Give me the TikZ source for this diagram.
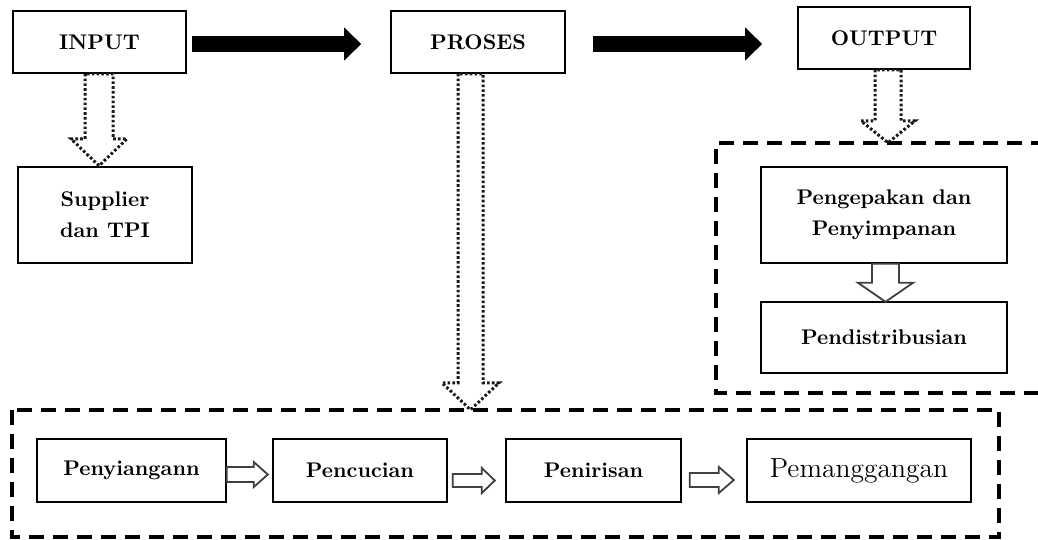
\documentclass[tikz,border=0pt]{standalone}
\usetikzlibrary{arrows.meta,calc}

\tikzset{
    box/.style={draw, line width=0.8pt, inner sep=2pt, align=center,
        font=\fontsize{10.6}{15.5}\selectfont\bfseries},
    groupbox/.style={line width=1.6pt, dash pattern=on 7.5pt off 4.5pt},
    bigarrow/.style={line width=8pt, -{Triangle[length=8.5pt,width=16pt]}},
    dotarrow/.style={line width=1.5pt, dash pattern=on 1.3pt off 1.1pt, black!90},
    hollowarrow/.style={line width=0.9pt, black!75},
}

% block arrows: style, start, shaft width, shaft length, head overhang, head length
\newcommand{\blockdown}[6]{\draw[#1] #2 ++(-#3/2,0) -- ++(0,#4) -- ++(-#5,0) -- ++(#3/2+#5,#6) -- ++(#3/2+#5,-#6) -- ++(-#5,0) -- ++(0,-#4) -- cycle;}
\newcommand{\blockright}[6]{\draw[#1] #2 ++(0,-#3/2) -- ++(#4,0) -- ++(0,-#5) -- ++(#6,#3/2+#5) -- ++(-#6,#3/2+#5) -- ++(0,-#5) -- ++(-#4,0) -- cycle;}

\begin{document}
\begin{tikzpicture}[x=0.5pt,y=-0.5pt]
        \useasboundingbox (0,0) rectangle (1038,540);

        % top row
        \node [box, minimum width=86.5pt, minimum height=31pt] (input) at (99.5,42) {INPUT};
        \node [box, minimum width=87pt, minimum height=31pt] (proses) at (478,42) {PROSES};
        \node [box, minimum width=86pt, minimum height=31pt] (output) at (884,38) {OUTPUT};

        \node [box, minimum width=87pt, minimum height=48pt] (supplier) at (105,215) {Supplier\\dan TPI};

        % output group
        \draw [groupbox] (1046,143) -- (716,143) -- (716,393) -- (1046,393);
        \node [box, minimum width=123pt, minimum height=48pt] (pengepakan) at (884,215) {Pengepakan dan\\Penyimpanan};
        \node [box, minimum width=123pt, minimum height=35.5pt] (distribusi) at (884,337.5) {Pendistribusian};

        % proses group
        \draw [groupbox] (12,410) rectangle (999,537);
        \node [box, minimum width=94.5pt, minimum height=31.5pt] (siang) at (131.5,470.5) {Penyiangann};
        \node [box, minimum width=87pt, minimum height=31.5pt] (cuci) at (360,470.5) {Pencucian};
        \node [box, minimum width=87.5pt, minimum height=31.5pt] (tiris) at (593.5,470.5) {Penirisan};
        \node [box, minimum width=112pt, minimum height=31.5pt, font=\fontsize{13.8}{15}\selectfont] (panggang) at (859,470.5) {Pemanggangan};

        \draw [bigarrow] ($(input.east)+(5,2)$) -- ($(proses.west)+(-29,2)$);
        \draw [bigarrow] ($(proses.east)+(27,2)$) -- ($(output.west)+(-35,6)$);

        \blockdown{dotarrow}{($(input.south)+(-0.5,0)$)}{28}{65}{14}{27}
        \blockdown{dotarrow}{($(proses.south)+(-7.5,0)$)}{25}{309}{16}{27}
        \blockdown{dotarrow}{($(output.south)+(4,0)$)}{26}{51}{14}{22}
        \blockdown{hollowarrow}{($(pengepakan.south)+(1.5,0)$)}{27}{19}{14}{19}

        \blockright{hollowarrow}{($(siang.east)+(0,4)$)}{15}{27}{5}{14}
        \blockright{hollowarrow}{($(cuci.east)+(5,10)$)}{13}{29}{6}{13}
        \blockright{hollowarrow}{($(tiris.east)+(8,9.5)$)}{14}{29}{6}{15}

    \end{tikzpicture}
\end{document}
